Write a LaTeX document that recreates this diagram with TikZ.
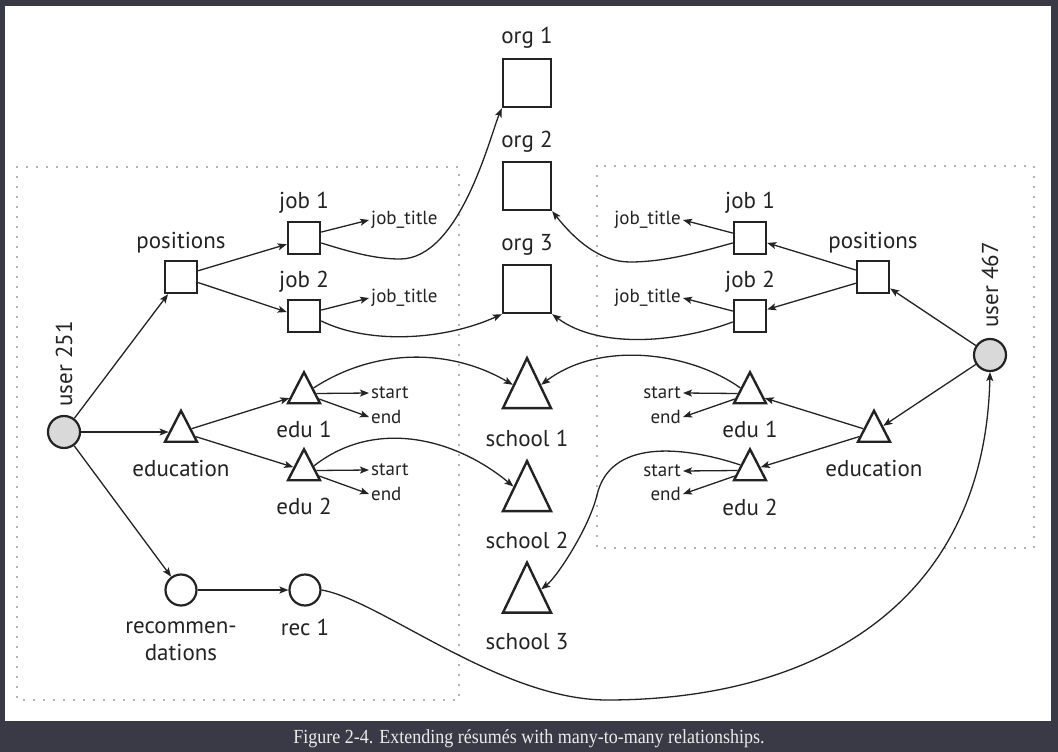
\documentclass[tikz,border=0pt]{standalone}
\usepackage{fontspec}
\setmainfont{PT Sans}
\newfontfamily\capfont[FakeStretch=0.9]{Liberation Serif}
\usetikzlibrary{arrows.meta,shapes.geometric}
\definecolor{frame}{RGB}{58,58,70}
\definecolor{ink}{RGB}{35,35,35}
\definecolor{userfill}{RGB}{217,217,217}

\begin{document}
\begin{tikzpicture}[x=1pt,y=-1pt,
	sq/.style={draw=ink,line width=2.4pt,minimum size=32pt,inner sep=0pt},
	orgsq/.style={sq,minimum size=48pt},
	tri/.style={draw=ink,line width=2.4pt,isosceles triangle,isosceles triangle stretches,shape border rotate=90,minimum width=32pt,minimum height=31pt,inner sep=0pt},
	bigtri/.style={tri,minimum width=48pt,minimum height=50pt},
	usr/.style={circle,draw=ink,line width=2.2pt,fill=userfill,minimum size=32pt,inner sep=0pt},
	rc/.style={circle,draw=ink,line width=2.2pt,minimum size=31pt,inner sep=0pt},
	lbl/.style={font=\fontsize{23}{27}\selectfont,text=ink,inner sep=1pt},
	sm/.style={font=\fontsize{19}{22}\selectfont,text=ink,inner sep=2pt},
	arr/.style={draw=ink,line width=1.3pt,-{Stealth[length=9pt,width=7pt,inset=2pt]}},
	zone/.style={draw=gray!80!black,line width=1.6pt,line cap=round,dash pattern=on 0pt off 10pt}]
	\useasboundingbox (0,0) rectangle (1058,752);
	\fill[frame] (0,0) rectangle (1058,752);
	\fill[white] (5,6) rectangle (1051,721);
	\node[text=white!92!black,font=\capfont\fontsize{20}{22}\selectfont] (cap) at (529,739) {Figure 2-4. Extending résumés with many-to-many relationships.};
	\draw[zone] (17,167) rectangle (459,700);
	\draw[zone] (597,166) rectangle (1034,548);

	\node[usr] (u1) at (64,432) {};
	\node[lbl,rotate=90] (u1t) at (64,364) {user 251};
	\node[sq] (pos1) at (181,277) {};
	\node[lbl] (pos1t) at (181,243) {positions};
	\node[sq] (job1) at (304,238) {};
	\node[lbl] (job1t) at (304,203) {job 1};
	\node[sq] (job2) at (304,316) {};
	\node[lbl] (job2t) at (304,282) {job 2};
	\node[sm,anchor=west] (jt1) at (369,220) {job\_title};
	\node[sm,anchor=west] (jt2) at (369,298) {job\_title};
	\node[tri] (edu) at (181,432) {};
	\node[lbl] (edut) at (181,468) {education};
	\node[tri] (edu1) at (304,393.5) {};
	\node[lbl] (edu1t) at (304,429) {edu 1};
	\node[tri] (edu2) at (304,470.5) {};
	\node[lbl] (edu2t) at (304,506) {edu 2};
	\node[sm,anchor=west] (st1) at (369,393) {start};
	\node[sm,anchor=west] (en1) at (369,417) {end};
	\node[sm,anchor=west] (st2) at (369,470) {start};
	\node[sm,anchor=west] (en2) at (369,494) {end};
	\node[rc] (rec) at (181,590) {};
	\node[lbl,align=center] (rect) at (181,641) {recommen-\\dations};
	\node[rc] (rec1) at (305,590) {};
	\node[lbl] (rec1t) at (305,627) {rec 1};

	\node[orgsq] (org1) at (527,83) {};
	\node[lbl] (org1t) at (527,38) {org 1};
	\node[orgsq] (org2) at (527,186) {};
	\node[lbl] (org2t) at (527,142) {org 2};
	\node[orgsq] (org3) at (527,289) {};
	\node[lbl] (org3t) at (527,245) {org 3};
	\node[bigtri] (sch1) at (527,393) {};
	\node[lbl] (sch1t) at (527,438) {school 1};
	\node[bigtri] (sch2) at (527,496) {};
	\node[lbl] (sch2t) at (527,540) {school 2};
	\node[bigtri] (sch3) at (527,597.5) {};
	\node[lbl] (sch3t) at (527,642) {school 3};

	\node[usr] (u2) at (990,355) {};
	\node[lbl,rotate=90] (u2t) at (990,285) {user 467};
	\node[sq] (pos2) at (873,277) {};
	\node[lbl] (pos2t) at (873,243) {positions};
	\node[sq] (job3) at (750,238) {};
	\node[lbl] (job3t) at (750,203) {job 1};
	\node[sq] (job4) at (750,316) {};
	\node[lbl] (job4t) at (750,282) {job 2};
	\node[sm,anchor=east] (jt3) at (683,220) {job\_title};
	\node[sm,anchor=east] (jt4) at (683,298) {job\_title};
	\node[tri] (edv) at (874,432) {};
	\node[lbl] (edvt) at (874,468) {education};
	\node[tri] (edu3) at (750,393.5) {};
	\node[lbl] (edu3t) at (750,429) {edu 1};
	\node[tri] (edu4) at (750,470.5) {};
	\node[lbl] (edu4t) at (750,507) {edu 2};
	\node[sm,anchor=east] (st3) at (683,393) {start};
	\node[sm,anchor=east] (en3) at (683,417) {end};
	\node[sm,anchor=east] (st4) at (683,471) {start};
	\node[sm,anchor=east] (en4) at (683,494) {end};

	\draw[arr] (u1) -- (pos1);
	\draw[arr] (u1) -- (edu);
	\draw[arr] (u1) -- (rec);
	\draw[arr] (pos1.20) -- (job1.200);
	\draw[arr] (pos1.-18) -- (job2.167);
	\draw[arr] (job1.19) -- (jt1.west);
	\draw[arr] (job2.19) -- (jt2.west);
	\draw[arr] (job1.-16) .. controls (350,252) and (375,259) .. (400,259) .. controls (460,259) and (490,136) .. (org1.south west);
	\draw[arr] (job2.-16) .. controls (370,345) and (445,340) .. (org3.south west);
	\draw[arr] (edu) -- (edu1);
	\draw[arr] (edu) -- (edu2);
	\draw[arr] (edu1.0) -- (st1.west);
	\draw[arr] (edu1.-20) -- (en1.west);
	\draw[arr] (edu2.0) -- (st2.west);
	\draw[arr] (edu2.-20) -- (en2.west);
	\draw[arr] (edu1.30) .. controls (375,348) and (450,348) .. (sch1.150);
	\draw[arr] (edu2.25) .. controls (375,418) and (455,438) .. (sch2.145);
	\draw[arr] (rec) -- (rec1);
	\draw[arr] (rec1.east) .. controls (380,600) and (500,700) .. (607,700) .. controls (820,700) and (985,600) .. (u2.south);

	\draw[arr] (u2) -- (pos2);
	\draw[arr] (u2) -- (edv);
	\draw[arr] (pos2.158) -- (job3.-16);
	\draw[arr] (pos2.200) -- (job4.21);
	\draw[arr] (job3.164) -- (jt3.east);
	\draw[arr] (job4.164) -- (jt4.east);
	\draw[arr] (job3.196) .. controls (690,255) and (660,262) .. (630,262) .. controls (600,262) and (575,240) .. (org2.south east);
	\draw[arr] (job4.199) .. controls (680,342) and (600,350) .. (org3.south east);
	\draw[arr] (edv) -- (edu3);
	\draw[arr] (edv) -- (edu4);
	\draw[arr] (edu3.180) -- (st3.east);
	\draw[arr] (edu3.200) -- (en3.east);
	\draw[arr] (edu4.180) -- (st4.east);
	\draw[arr] (edu4.200) -- (en4.east);
	\draw[arr] (edu3.150) .. controls (690,352) and (600,340) .. (sch1.30);
	\draw[arr] (edu4.150) .. controls (680,445) and (610,440) .. (597,495) .. controls (589,528) and (557,577) .. (sch3.30);
\end{tikzpicture}
\end{document}
